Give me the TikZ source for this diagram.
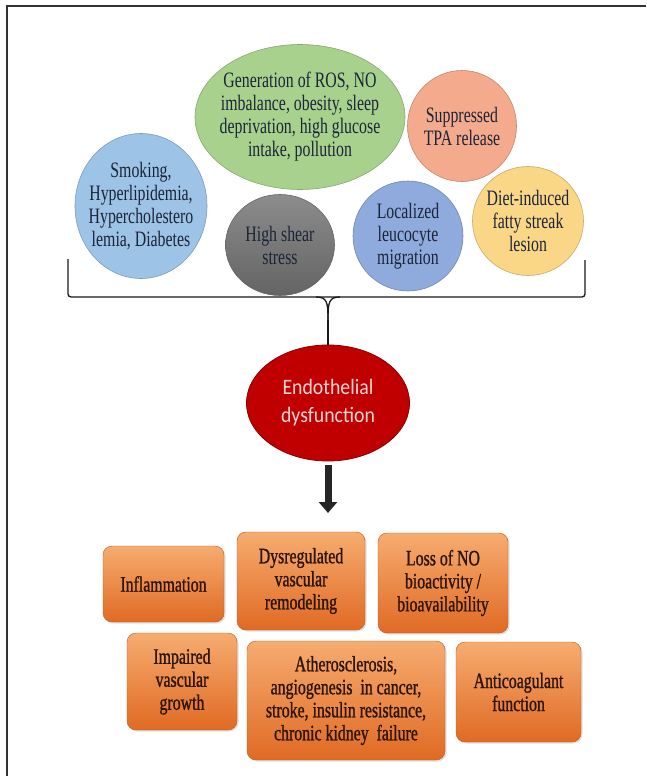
\documentclass[tikz,border=0pt]{standalone}
\usepackage{fontspec}
\setmainfont[FakeStretch=0.72]{Liberation Serif}
\newfontfamily\boxfont[FakeStretch=0.72,FakeBold=1]{Liberation Serif}
\newfontfamily\calib[FakeStretch=0.9]{Carlito}
\usetikzlibrary{shapes.geometric,arrows.meta,shadows}
\definecolor{bluec}{RGB}{157,195,230}
\definecolor{greenc}{RGB}{169,209,142}
\definecolor{salmonc}{RGB}{244,170,140}
\definecolor{grayt}{RGB}{140,140,140}
\definecolor{grayb}{RGB}{100,100,100}
\definecolor{purpc}{RGB}{143,170,220}
\definecolor{yellc}{RGB}{250,214,135}
\definecolor{redc}{RGB}{192,0,0}
\definecolor{redtext}{RGB}{250,215,215}
\definecolor{textc}{RGB}{28,36,56}
\definecolor{boxtop}{RGB}{246,172,112}
\definecolor{boxbot}{RGB}{224,106,36}
\definecolor{boxtext}{RGB}{45,20,5}
\begin{document}
\begin{tikzpicture}[x=1pt,y=-1pt,
  circ/.style={ellipse, draw, line width=0.6pt, inner sep=0pt},
  ctext/.style={align=center, text=textc, inner sep=0pt, font=\fontsize{22}{23}\selectfont},
  obox/.style={rectangle, rounded corners=9pt, top color=boxtop, bottom color=boxbot,
    draw=boxbot!85!black, line width=0.4pt, align=center, text=boxtext, inner sep=0pt,
    font=\boxfont\fontsize{22}{23}\selectfont,
    drop shadow={opacity=0.25, shadow xshift=1.5pt, shadow yshift=-1.5pt}},
  bracel/.style={line width=1.3pt, black!90},
  bigarrow/.style={line width=7pt, black!85, -{Triangle[width=18pt,length=11pt]}}
]
\useasboundingbox (0,0) rectangle (646,776);
% frame
\draw[line width=2pt, black!80] (6.5,776) -- (6.5,6.5) -- (646,6.5);

% causes
\node[circ, fill=bluec, draw=bluec!80!black, minimum width=132pt, minimum height=145pt] (smk) at (141,206) {};
\node[ctext] (smkt) at (smk) {Smoking,\\Hyperlipidemia,\\Hypercholestero\\lemia, Diabetes};

\node[circ, fill=greenc, draw=greenc!80!black, minimum width=210pt, minimum height=145pt] (ros) at (300,117) {};
\node[ctext] (rost) at (ros) {Generation of ROS, NO\\imbalance, obesity, sleep\\deprivation, high glucose\\intake, pollution};

\node[circ, fill=salmonc, draw=salmonc!80!black, minimum width=109pt, minimum height=111pt] (tpa) at (462,126) {};
\node[ctext] (tpat) at (tpa) {Suppressed\\TPA release};

\node[circ, top color=grayt, bottom color=grayb, draw=black!60, minimum width=109pt, minimum height=101pt] (shr) at (280,245) {};
\node[ctext] (shrt) at (shr) {High shear\\stress};

\node[circ, fill=purpc, draw=purpc!80!black, minimum width=110pt, minimum height=110pt] (leu) at (408,236) {};
\node[ctext] (leut) at (leu) {Localized\\leucocyte\\migration};

\node[circ, fill=yellc, draw=yellc!80!black, minimum width=111pt, minimum height=109pt] (fat) at (528,221) {};
\node[ctext] (fatt) at (fat) {Diet-induced\\fatty streak\\lesion};

% brace
\coordinate (bl) at (68,259);
\coordinate (br) at (585,260);
\coordinate (tip) at (328,320);
\draw[bracel, rounded corners=3pt] (bl) -- (68,297) -- (585,297) -- (br);
\draw[bracel] (316,297) .. controls (327,297) and (328,302) .. (tip);
\draw[bracel] (340,297) .. controls (329,297) and (328,302) .. (tip);

% endothelial dysfunction
\node[circ, fill=redc, draw=redc!70!black, line width=0.8pt, minimum width=163pt, minimum height=116pt] (ed) at (328,403) {};
\node[align=center, text=redtext, inner sep=0pt, font=\calib\fontsize{22}{28}\selectfont] (edt) at (ed) {Endothelial\\dysfunction};
\draw[bracel] (tip) -- (ed.north);

% arrow
\coordinate (arrend) at (328,513);
\draw[bigarrow] ([yshift=-4pt]ed.south) -- (arrend);

% consequences
\node[obox, minimum width=121pt, minimum height=76pt] (inf) at (163.5,584) {Inflammation};
\node[obox, minimum width=128pt, minimum height=98pt] (dys) at (301,581) {Dysregulated\\vascular\\remodeling};
\node[obox, minimum width=130pt, minimum height=100pt] (nob) at (443,583) {Loss of NO\\bioactivity /\\bioavailability};
\node[obox, minimum width=110pt, minimum height=97pt] (imp) at (182,681.5) {Impaired\\vascular\\growth};
\node[obox, minimum width=198pt, minimum height=119pt] (ath) at (346,700.5) {Atherosclerosis,\\angiogenesis\ \ in cancer,\\stroke, insulin resistance,\\chronic kidney\ \ failure};
\node[obox, minimum width=125pt, minimum height=100pt] (acf) at (518.5,692) {Anticoagulant\\function};
\end{tikzpicture}
\end{document}
